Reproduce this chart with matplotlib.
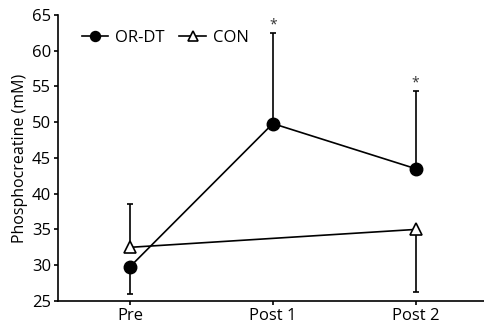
import matplotlib.pyplot as plt
import numpy as np

plt.rcParams['font.family'] = ['Open Sans', 'DejaVu Sans']

# data
categories = ['Pre', 'Post 1', 'Post 2']
ordt_x = [0, 1, 2]
ordt_mean = [29.8, 49.8, 43.5]
ordt_err_lo = [3.8, 0, 0]
ordt_err_hi = [0, 12.7, 10.8]

con_x = [0, 2]
con_mean = [32.5, 35.0]
con_err_lo = [0, 8.7]
con_err_hi = [6.0, 0]

star_x = [1, 2]
star_y = [62.6, 54.4]

fig = plt.figure(figsize=(4.84, 3.30), dpi=100)
ax = fig.add_axes([0.12, 0.088, 0.88, 0.867])

ax.errorbar(ordt_x, ordt_mean, yerr=[ordt_err_lo, ordt_err_hi], color='black',
            lw=1.2, marker='o', ms=9, mfc='black', mec='black',
            capsize=2.5, elinewidth=1.2, capthick=1.2, label='OR-DT', zorder=3)
ax.errorbar(con_x, con_mean, yerr=[con_err_lo, con_err_hi], color='black',
            lw=1.2, marker='^', ms=9, mfc='white', mec='black', mew=1.2,
            capsize=2.5, elinewidth=1.2, capthick=1.2, label='CON', zorder=2)

for x, y in zip(star_x, star_y):
    ax.text(x, y, '*', ha='center', va='bottom', fontsize=10, color='#333333')

ax.set_xlim(-0.505, 2.48)
ax.set_ylim(25, 65)
ax.set_yticks(np.arange(25, 66, 5))
ax.set_xticks(range(len(categories)))
ax.set_xticklabels(categories)
ax.set_ylabel('Phosphocreatine (mM)', fontsize=11.5, labelpad=3)
ax.tick_params(labelsize=12, length=3, width=1.2, pad=2)
for s in ['top', 'right']:
    ax.spines[s].set_visible(False)
for s in ['left', 'bottom']:
    ax.spines[s].set_linewidth(1.2)

h, l = ax.get_legend_handles_labels()
h = [hh[0] for hh in h]
ax.legend(h, l, loc='upper left', ncol=2, frameon=False, fontsize=12,
          handlelength=1.6, handletextpad=0.4, columnspacing=0.9,
          markerscale=0.8, bbox_to_anchor=(0.02, 1.0))

fig.savefig('out.png', dpi=100)
